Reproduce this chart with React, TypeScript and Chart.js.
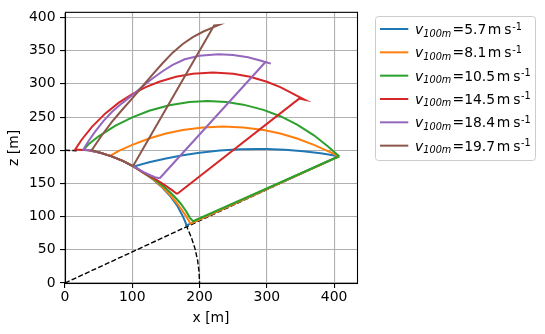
import React, { useEffect, useRef } from "react";
import { Chart, registerables } from "chart.js";

Chart.register(...registerables);

// ---- data (x [m], z [m]) ----
const speeds = [5.7, 8.1, 10.5, 14.5, 18.4, 19.7];
const colors = ["#1f77b4", "#ff7f0e", "#2ca02c", "#d62728", "#9467bd", "#8c564b"];

const xTicks = [0, 100, 200, 300, 400];
const yTicks = [0, 50, 100, 150, 200, 250, 300, 350, 400];
const xMax = 434;
const yMax = 407;

const blueTrack = [
  [407.5, 191], [380, 195.4], [354, 198.6], [327, 200.8], [300, 201.9], [287, 202], [260, 201.4],
  [230, 199.5], [200, 196.2], [175, 192.4], [150, 187.6], [125, 181.8], [103, 175.8],
  [116.4, 166.3], [130.8, 155.9], [144.2, 144.2], [156.3, 131.1], [166.7, 116.7], [174.9, 101],
  [179.1, 91.3], [180.5, 86.8], [407.5, 191],
];

const orangeTrack = [
  [407.5, 191], [390, 199], [370, 208.2], [345, 217.7], [320, 225.1], [295, 230.5], [265, 234.4],
  [235, 235.7], [205, 234.4], [175, 230.5], [150, 225.1], [125, 217.7], [100, 208.2], [80, 199],
  [67, 191.5], [85.8, 184], [101.5, 175.8], [116.4, 166.3], [131.1, 156.3], [144.6, 144.6],
  [157, 131.8], [168.3, 117.9], [178.4, 103], [184, 93.7], [186.4, 89.3], [407.5, 191],
];

const greenTrack = [
  [407.5, 191], [390, 206.5], [370, 222.5], [345, 238.7], [320, 251.3], [295, 260.8], [265, 268.7],
  [240, 272.5], [212, 274], [185, 272.6], [155, 267.9], [125, 259.5], [100, 249.5], [75, 237],
  [50, 221], [35, 209], [27.5, 200.5], [35.2, 199.9], [52.5, 196.1], [69.4, 190.8], [85.8, 184],
  [101.5, 175.8], [116.4, 166.3], [131.8, 157], [146, 146], [159.3, 133.7], [171.6, 120.2],
  [180, 108.2], [185.4, 98.6], [190.3, 93], [407.5, 191],
];

const redTrack = [
  [166.5, 134], [348, 277.8], [356.5, 276], [340, 284.7], [320, 295.1], [300, 303.2], [275, 310.6],
  [250, 315.1], [220, 317], [190, 315.1], [165, 310.6], [140, 303.2], [120, 295.1], [100, 284.7],
  [80, 271.7], [60, 255.5], [40, 235.2], [25, 216.2], [15, 201], [35.2, 199.9], [52.5, 196.1],
  [69.4, 190.8], [85.8, 184], [101.5, 175.8], [116.4, 166.3], [132.4, 157.8], [147.8, 147.8],
  [160, 139.1], [166.5, 134],
];

const purpleTrack = [
  [140.8, 157.8], [298, 333], [305.9, 330.5], [290, 335.2], [272, 340], [250, 343.5], [228, 344.5],
  [200, 342.3], [178, 337], [160, 328.5], [145, 319], [130, 308], [115, 296], [100, 283], [85, 271],
  [70, 258], [57, 244], [45, 228.5], [35, 214], [27.3, 201], [35.2, 199.9], [52.5, 196.1],
  [69.4, 190.8], [85.8, 184], [101.5, 175.8], [117, 167.1], [126.8, 162.3], [133.7, 159.3],
  [140.8, 157.8],
];

const brownTrack = [
  [101, 176], [221.6, 388], [228.5, 388.6], [220, 385], [205, 378.5], [190, 370.5], [175, 360],
  [160, 347], [145, 331], [130, 314], [115, 296], [100, 278], [85, 261], [70, 243], [55, 223],
  [39.7, 200], [52.5, 196.1], [69.4, 190.8], [85.8, 184], [101, 176],
];

const elevationLine = [[0, 0], [405, 190]];
const circleLow = [[179.8, 87.7], [187.9, 68.4], [193.2, 51.8], [197, 34.7], [199.2, 17.4], [200, 0]];
const circleTop = [[0, 200], [17.4, 199.2]];

const tracks = [blueTrack, orangeTrack, greenTrack, redTrack, purpleTrack, brownTrack];

const FONT = '"DejaVu Sans"';
const FS = 13.9;

const toXY = (pts: number[][]) => pts.map(([x, y]) => ({ x, y }));

const framePlugin = {
  id: "mplFrame",
  afterDatasetsDraw(chart: any) {
    const { ctx, chartArea } = chart;
    ctx.save();
    ctx.strokeStyle = "#000";
    ctx.lineWidth = 1.1;
    ctx.strokeRect(chartArea.left + 0.5, chartArea.top - 0.5, chartArea.right - chartArea.left, chartArea.bottom - chartArea.top + 1);
    ctx.restore();
  },
};

const legendPlugin = {
  id: "mplLegend",
  afterDraw(chart: any) {
    const ctx = chart.ctx as CanvasRenderingContext2D;
    ctx.save();
    const bx = 375.5, by = 16.5, bw = 160, bh = 144, r = 3;
    ctx.beginPath();
    ctx.moveTo(bx + r, by);
    ctx.lineTo(bx + bw - r, by);
    ctx.quadraticCurveTo(bx + bw, by, bx + bw, by + r);
    ctx.lineTo(bx + bw, by + bh - r);
    ctx.quadraticCurveTo(bx + bw, by + bh, bx + bw - r, by + bh);
    ctx.lineTo(bx + r, by + bh);
    ctx.quadraticCurveTo(bx, by + bh, bx, by + bh - r);
    ctx.lineTo(bx, by + r);
    ctx.quadraticCurveTo(bx, by, bx + r, by);
    ctx.closePath();
    ctx.fillStyle = "rgba(255,255,255,0.8)";
    ctx.fill();
    ctx.strokeStyle = "#cccccc";
    ctx.lineWidth = 1;
    ctx.stroke();

    speeds.forEach((s, i) => {
      const y = 29 + i * 23.33;
      ctx.strokeStyle = colors[i];
      ctx.lineWidth = 2;
      ctx.beginPath();
      ctx.moveTo(380, y);
      ctx.lineTo(408.3, y);
      ctx.stroke();

      ctx.fillStyle = "#000";
      ctx.textBaseline = "alphabetic";
      ctx.textAlign = "left";
      ctx.font = `italic ${FS}px ${FONT}`;
      ctx.fillText("v", 415, y + 5);
      ctx.font = `italic ${FS * 0.7}px ${FONT}`;
      ctx.fillText("100m", 423.3, y + 7.5);
      ctx.font = `${FS}px ${FONT}`;
      let x = 452.5;
      const num = `=${s.toFixed(1)}`;
      ctx.fillText(num, x, y + 5);
      x += ctx.measureText(num).width + 1.6;
      ctx.fillText("m", x, y + 5);
      x += ctx.measureText("m").width + 3;
      ctx.fillText("s", x, y + 5);
      x += ctx.measureText("s").width + 0.6;
      ctx.font = `${FS * 0.7}px ${FONT}`;
      ctx.fillText("-1", x, y + 0.5);
    });
    ctx.restore();
  },
};

export default function App() {
  const ref = useRef<HTMLCanvasElement>(null);
  useEffect(() => {
    document.body.style.margin = "0";
    Chart.defaults.font.family = FONT;
    const datasets: any[] = tracks.map((t, i) => ({
      label: `v100m=${speeds[i]} m s-1`,
      data: toXY(t),
      showLine: true,
      borderColor: colors[i],
      backgroundColor: colors[i],
      borderWidth: 2,
      pointRadius: 0,
      tension: 0,
      fill: false,
      order: 5 - i,
    }));
    [elevationLine, circleLow, circleTop].forEach((d) =>
      datasets.push({
        data: toXY(d),
        showLine: true,
        borderColor: "#000",
        borderWidth: 1.4,
        borderDash: [5.1, 2.2],
        pointRadius: 0,
        tension: 0,
        fill: false,
        order: 10,
      })
    );
    const grid = {
      color: "#b0b0b0",
      lineWidth: 1.1,
      tickColor: "#000",
      tickLength: 5,
      tickWidth: 1.1,
      drawTicks: true,
    };
    const chart = new Chart(ref.current as HTMLCanvasElement, {
      type: "scatter",
      data: { datasets },
      plugins: [framePlugin, legendPlugin],
      options: {
        animation: false,
        responsive: false,
        events: [],
        layout: { padding: { top: 10, right: 188, left: 0, bottom: 0 } },
        plugins: { legend: { display: false }, tooltip: { enabled: false } },
        scales: {
          x: {
            type: "linear",
            min: 0,
            max: xMax,
            afterFit: (s: any) => { s.height = 51; },
            afterBuildTicks: (s: any) => { s.ticks = xTicks.map((v) => ({ value: v })); },
            ticks: { color: "#000", font: { size: FS, family: FONT }, padding: 1.5, maxRotation: 0 },
            grid,
            border: { display: false },
            title: { display: true, text: "x [m]", color: "#000", font: { size: FS, family: FONT }, padding: { top: 0, bottom: 7.4 } },
          },
          y: {
            type: "linear",
            min: 0,
            max: yMax,
            afterFit: (s: any) => { s.width = 65; },
            afterBuildTicks: (s: any) => { s.ticks = yTicks.map((v) => ({ value: v })); },
            ticks: { color: "#000", font: { size: FS, family: FONT }, padding: 4.5 },
            grid,
            border: { display: false },
            title: { display: true, text: "z [m]", color: "#000", font: { size: FS, family: FONT }, padding: { top: 5.9, bottom: 0 } },
          },
        },
      } as any,
    });
    return () => chart.destroy();
  }, []);
  return <canvas ref={ref} width={545} height={334} style={{ display: "block", width: 545, height: 334 }} />;
}
